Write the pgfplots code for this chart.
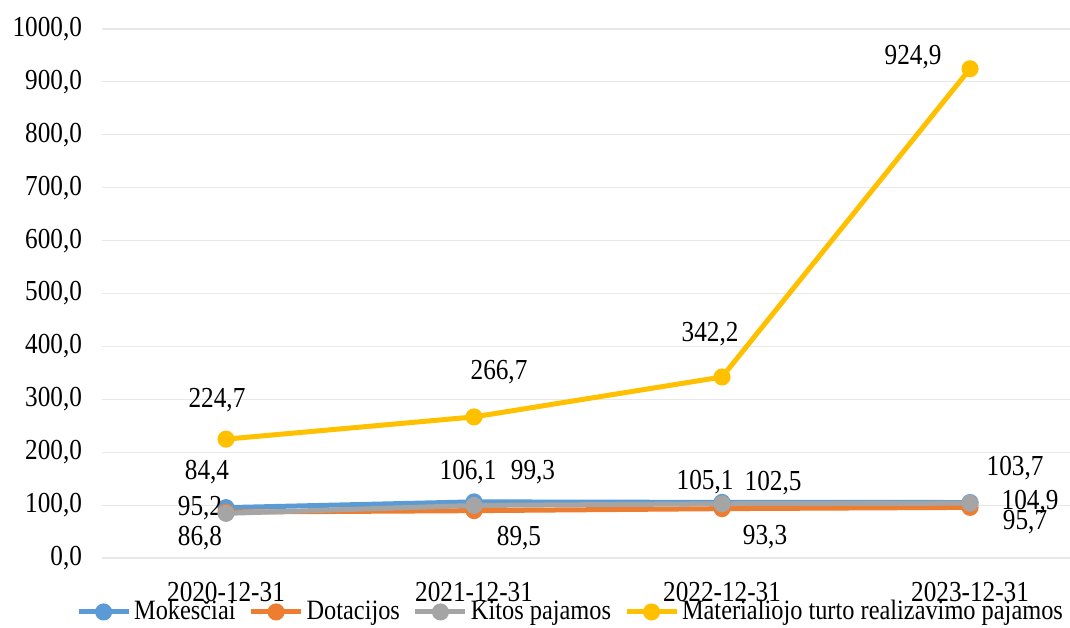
\documentclass[border=0pt]{standalone}
\usepackage{fontspec}
\setmainfont{Liberation Serif}[FakeStretch=0.87]
\usepackage{pgfplots}
\pgfplotsset{compat=1.18}
\usepackage{pgfplotstable}
\usetikzlibrary{calc}
\definecolor{cblue}{HTML}{5B9BD5}
\definecolor{corange}{HTML}{ED7D31}
\definecolor{cgray}{HTML}{A5A5A5}
\definecolor{cyellow}{HTML}{FFC000}
\definecolor{cgrid}{HTML}{E8E8E8}

\pgfplotstableread{
x y lx ly
0 95.2 -13 0
1 106.1 -3 15
2 105.1 -8.5 10
3 104.9 30 0
}\mok
\pgfplotstableread{
x y lx ly
0 86.8 -13 -13
1 89.5 22.5 -13.5
2 93.3 21.5 -14
3 95.7 27.5 -7.5
}\dot
\pgfplotstableread{
x y lx ly
0 84.4 -9.5 20.5
1 99.3 29.5 16.5
2 102.5 25.5 10.5
3 103.7 22.5 17.5
}\kit
\pgfplotstableread{
x y lx ly
0 224.7 -4.5 19.5
1 266.7 12.5 22.5
2 342.2 -6 21.5
3 924.9 -28.5 6
}\mat

\begin{document}
\fontsize{14.5}{17.4}\selectfont
\begin{tikzpicture}
\begin{axis}[
  scale only axis,
  width=484pt, height=264.5pt,
  xmin=-0.5, xmax=3.403, ymin=0, ymax=1000,
  xtick={0,1,2,3},
  xticklabels={2020-12-31,2021-12-31,2022-12-31,2023-12-31},
  ytick={0,100,...,1000},
  axis line style={draw=none},
  major tick length=0pt,
  ymajorgrids,
  grid style={color=cgrid, line width=0.6pt},
  yticklabel style={/pgf/number format/.cd, fixed, fixed zerofill, precision=1, use comma, 1000 sep={}, assume math mode=true, /tikz/.cd, xshift=-5pt},
  xticklabel style={yshift=-7pt},
  ticklabel style={text=black},
  clip=false,
  nodes near coords={\pgfmathprintnumber[fixed,fixed zerofill,precision=1,use comma,assume math mode=true]{\pgfplotspointmeta}},
  point meta=y,
  visualization depends on={\thisrow{lx}\as\lx},
  visualization depends on={\thisrow{ly}\as\ly},
  every node near coord/.append style={anchor=center, text=black, xshift=\lx pt, yshift=\ly pt, inner sep=0pt},
  legend style={at={(0.4845,-0.102)}, anchor=center, draw=none, fill=none, legend columns=4,
    font=\fontsize{14}{16.8}\selectfont,
    nodes={inner xsep=1.5pt},
    /tikz/every even column/.append style={column sep=5pt}, text=black, inner sep=0pt},
  legend cell align=left,
  legend image code/.code={\draw[mark repeat=2,mark phase=2] plot coordinates {(0pt,0pt) (12.5pt,0pt) (25pt,0pt)};},
  every axis plot/.append style={line width=2.5pt, mark=*, mark size=3pt, mark options={solid}},
]
\coordinate (bl) at (rel axis cs:0,0);
\coordinate (tr) at (rel axis cs:1,1);
\addplot[cblue, mark options={fill=cblue}] table[x=x,y=y] {\mok};
\addlegendentry{Mokesčiai}
\addplot[corange, mark options={fill=corange}] table[x=x,y=y] {\dot};
\addlegendentry{Dotacijos}
\addplot[cgray, mark options={fill=cgray}] table[x=x,y=y] {\kit};
\addlegendentry{Kitos pajamos}
\addplot[cyellow, mark options={fill=cyellow}] table[x=x,y=y] {\mat};
\addlegendentry{Materialiojo turto realizavimo pajamos}
\end{axis}
\pgfresetboundingbox
\path ($(bl)+(-51pt,-34.5pt)$) rectangle ($(tr)+(0pt,14.5pt)$);
\end{tikzpicture}
\end{document}
